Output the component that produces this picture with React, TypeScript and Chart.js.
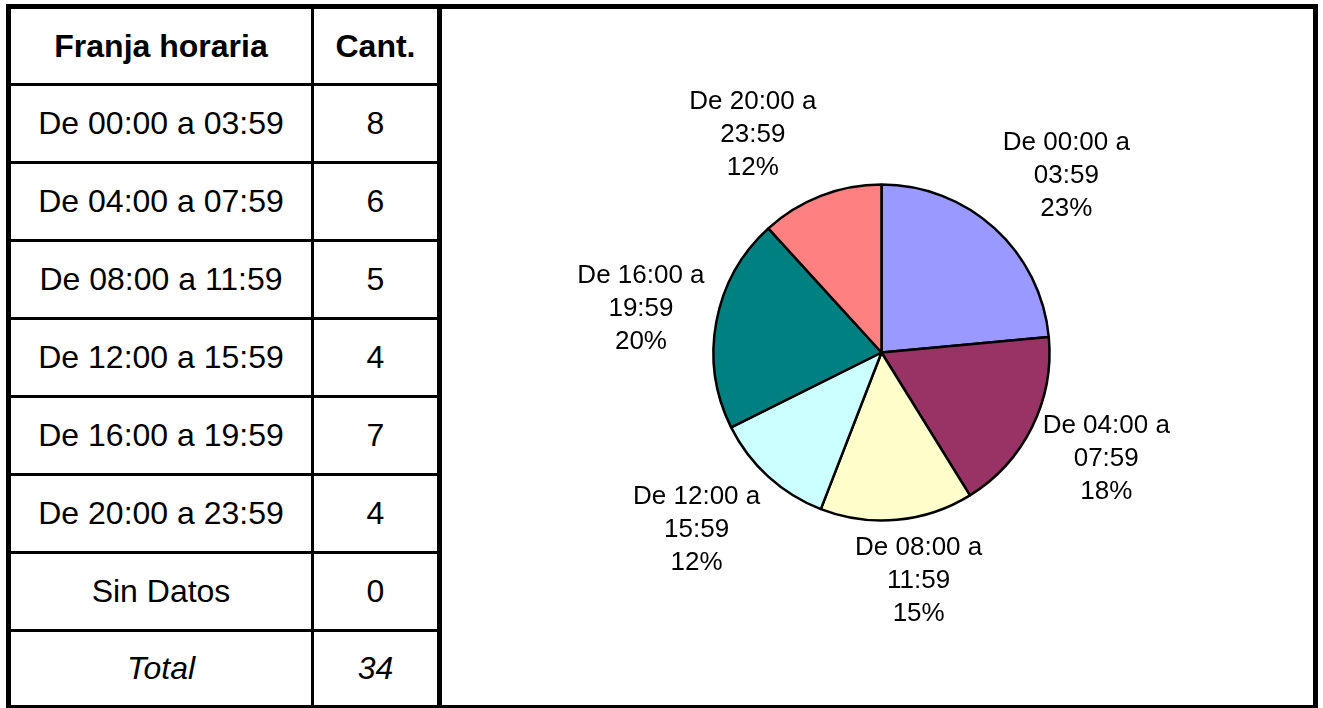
import React, { useEffect, useRef } from "react";
import { Chart, registerables } from "chart.js";

Chart.register(...registerables);

const franjas: string[] = [
  "De 00:00 a 03:59",
  "De 04:00 a 07:59",
  "De 08:00 a 11:59",
  "De 12:00 a 15:59",
  "De 16:00 a 19:59",
  "De 20:00 a 23:59",
  "Sin Datos",
];
const cantidades: number[] = [8, 6, 5, 4, 7, 4, 0];
const porcentajes: string[] = ["23%", "18%", "15%", "12%", "20%", "12%", "0%"];
const colores: string[] = ["#9999FF", "#993366", "#FFFFCC", "#CCFFFF", "#008080", "#FF8080", "#FFFFFF"];
const encabezados: string[] = ["Franja horaria", "Cant."];
const totalLabel = "Total";

const FONT = '"Liberation Sans", Arial, Helvetica, sans-serif';

const sliceLabels = {
  id: "sliceLabels",
  afterDatasetsDraw(chart: any) {
    const ctx = chart.ctx;
    const meta = chart.getDatasetMeta(0);
    const labels = chart.data.labels as string[];
    const pcts = (chart.data.datasets[0] as any).pcts as string[];
    ctx.save();
    ctx.font = "26px " + FONT;
    ctx.fillStyle = "#000";
    ctx.textAlign = "center";
    ctx.textBaseline = "middle";
    const lineH = 33;
    const clamp = (v: number) => Math.max(-1, Math.min(1, v));
    meta.data.forEach((arc: any, i: number) => {
      const p = arc.getProps(["x", "y", "startAngle", "endAngle", "outerRadius"], true);
      const a = (p.startAngle + p.endAngle) / 2 + Math.PI / 2;
      const s = Math.sin(a);
      const c = Math.cos(a);
      const D = p.outerRadius + 12;
      const ax = p.x + D * s;
      const ay = p.y - D * c;
      const lab = labels[i];
      const k = lab.lastIndexOf(" ");
      const lines = [lab.slice(0, k), lab.slice(k + 1), pcts[i]];
      const w = Math.max(...lines.map((l) => ctx.measureText(l).width));
      const hw = w / 2;
      const hh = (lines.length * lineH) / 2;
      const cx = ax + hw * clamp(3.5 * s);
      const cy = ay - hh * clamp(1.2 * c);
      lines.forEach((l, j) => ctx.fillText(l, cx, cy - hh + lineH * (j + 0.5)));
    });
    ctx.restore();
  },
};

function PieChart() {
  const ref = useRef<HTMLCanvasElement | null>(null);
  useEffect(() => {
    if (!ref.current) return;
    const idx = cantidades.map((v, i) => i).filter((i) => cantidades[i] > 0);
    const chart = new Chart(ref.current, {
      type: "pie",
      data: {
        labels: idx.map((i) => franjas[i]),
        datasets: [
          {
            data: idx.map((i) => cantidades[i]),
            backgroundColor: idx.map((i) => colores[i]),
            borderColor: "#000000",
            borderWidth: 2.5,
            pcts: idx.map((i) => porcentajes[i]),
          } as any,
        ],
      },
      options: {
        animation: false,
        responsive: false,
        devicePixelRatio: 1,
        radius: 168,
        layout: { padding: { left: 8, right: 0, top: 0, bottom: 9 } },
        plugins: {
          legend: { display: false },
          tooltip: { enabled: false },
        },
      } as any,
      plugins: [sliceLabels],
    });
    return () => chart.destroy();
  }, []);
  return <canvas ref={ref} width={871} height={696} style={{ display: "block", width: 871, height: 696 }} />;
}

export default function App() {
  const total = cantidades.reduce((a, b) => a + b, 0);
  const cellBase: React.CSSProperties = {
    display: "flex",
    alignItems: "center",
    justifyContent: "center",
    fontFamily: FONT,
    fontSize: 32,
    color: "#000",
    boxSizing: "border-box",
  };
  const row = (c1: React.ReactNode, c2: React.ReactNode, h: number, last: boolean, style?: React.CSSProperties, key?: any) => (
    <div key={key} style={{ display: "flex", height: h, boxSizing: "border-box", borderBottom: last ? "none" : "3px solid #000" }}>
      <div style={{ ...cellBase, ...style, width: 303, borderRight: "3px solid #000" }}>{c1}</div>
      <div style={{ ...cellBase, ...style, flex: 1 }}>{c2}</div>
    </div>
  );
  return (
    <div style={{ position: "absolute", left: 0, top: 0, width: 1323, height: 708, overflow: "hidden", background: "#fff" }}>
      <div
        style={{
          position: "absolute",
          left: 6,
          top: 4,
          width: 1312,
          height: 706,
          border: "5px solid #000",
          boxSizing: "border-box",
          display: "flex",
        }}
      >
        <div style={{ width: 426, height: 696, borderRight: "5px solid #000", boxSizing: "content-box" }}>
          {row(encabezados[0], encabezados[1], 77, false, { fontWeight: "bold" })}
          {franjas.map((f, i) => row(f, String(cantidades[i]), 78, false, undefined, i))}
          {row(totalLabel, String(total), 73, true, { fontStyle: "italic" })}
        </div>
        <div style={{ width: 871, height: 696 }}>
          <PieChart />
        </div>
      </div>
    </div>
  );
}
